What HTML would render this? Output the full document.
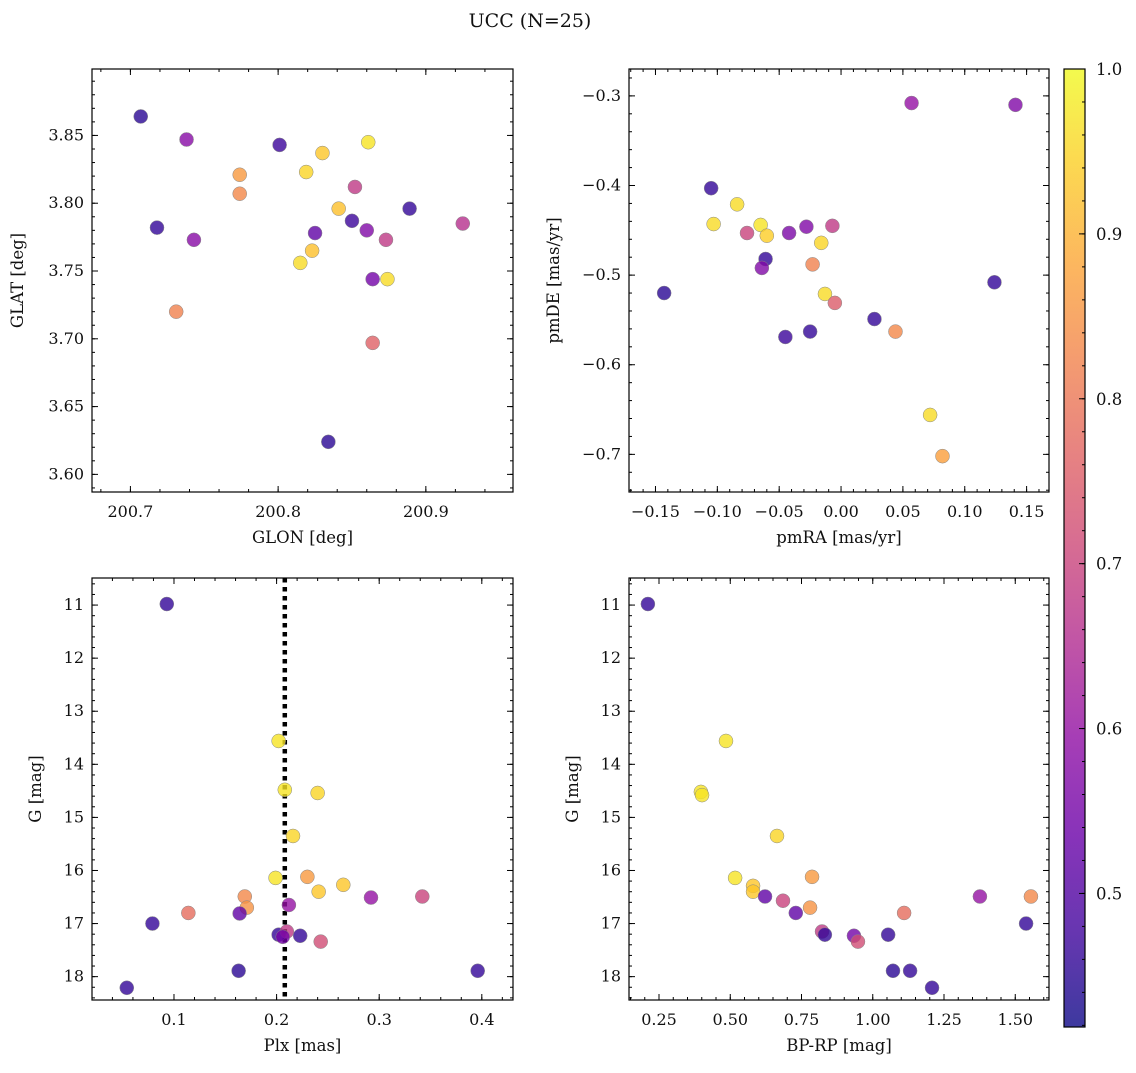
<!DOCTYPE html>
<html><head><meta charset="utf-8"><style>
body{margin:0;background:#fff;}
svg text{font-family:"DejaVu Serif","Liberation Serif",serif;fill:#111;}
</style></head><body>
<svg id="fig" width="1136" height="1068" viewBox="0 0 1136 1068" xmlns="http://www.w3.org/2000/svg">
<defs>
<linearGradient id="plasma" x1="0" y1="1" x2="0" y2="0">
<stop offset="0" stop-color="#0d0887"/><stop offset="0.1" stop-color="#41049d"/><stop offset="0.2" stop-color="#6a00a8"/><stop offset="0.3" stop-color="#8f0da4"/><stop offset="0.4" stop-color="#b12a90"/><stop offset="0.5" stop-color="#cc4778"/><stop offset="0.6" stop-color="#e16462"/><stop offset="0.7" stop-color="#f2844b"/><stop offset="0.8" stop-color="#fca636"/><stop offset="0.9" stop-color="#fcce25"/><stop offset="1" stop-color="#f0f921"/>
</linearGradient>
</defs>
<text x="530" y="27" font-size="19" text-anchor="middle">UCC (N=25)</text>
</svg>
<script>
// Panel 1: GLON vs GLAT
const glon = [200.707,200.738,200.718,200.743,200.774,200.774,200.731,200.801,200.819,200.830,200.861,200.852,200.841,200.850,200.825,200.860,200.873,200.815,200.823,200.864,200.874,200.864,200.889,200.925,200.834];
const glat = [3.864,3.847,3.782,3.773,3.821,3.807,3.720,3.843,3.823,3.837,3.845,3.812,3.796,3.787,3.778,3.780,3.773,3.756,3.765,3.744,3.744,3.697,3.796,3.785,3.624];
const prob1 = [0.45,0.58,0.46,0.58,0.86,0.83,0.82,0.47,0.95,0.93,0.97,0.68,0.92,0.47,0.52,0.57,0.68,0.96,0.92,0.55,0.96,0.76,0.46,0.66,0.45];
// Panel 2: pmRA vs pmDE
const pmra = [-0.143,-0.105,-0.084,-0.103,-0.076,-0.065,-0.060,-0.061,-0.064,-0.042,-0.028,-0.007,-0.016,-0.023,-0.013,-0.005,-0.045,-0.025,0.027,0.044,0.057,0.141,0.124,0.072,0.082];
const pmde = [-0.520,-0.403,-0.421,-0.443,-0.453,-0.444,-0.456,-0.482,-0.492,-0.453,-0.446,-0.445,-0.464,-0.488,-0.521,-0.531,-0.569,-0.563,-0.549,-0.563,-0.308,-0.310,-0.508,-0.656,-0.702];
const prob2 = [0.45,0.46,0.96,0.96,0.70,0.97,0.94,0.46,0.57,0.56,0.57,0.68,0.95,0.82,0.96,0.75,0.47,0.46,0.46,0.83,0.60,0.57,0.46,0.96,0.87];
// Panel 3: Plx vs G
const plx = [0.093,0.202,0.208,0.240,0.216,0.199,0.230,0.265,0.241,0.169,0.171,0.114,0.164,0.212,0.292,0.342,0.079,0.202,0.210,0.223,0.243,0.163,0.396,0.054,0.206];
const gmag3 = [10.98,13.56,14.48,14.54,15.35,16.14,16.12,16.27,16.40,16.49,16.70,16.80,16.81,16.65,16.51,16.49,17.00,17.21,17.15,17.23,17.34,17.89,17.89,18.21,17.25];
const prob3 = [0.46,0.97,0.97,0.95,0.95,0.97,0.86,0.93,0.93,0.83,0.85,0.78,0.52,0.60,0.60,0.70,0.46,0.46,0.68,0.46,0.72,0.45,0.46,0.46,0.55];
const plxLine = 0.208;
// Panel 4: BP-RP vs G
const bprp = [0.211,0.485,0.397,0.401,0.664,0.517,0.580,0.580,0.787,0.780,0.622,0.685,0.730,0.822,0.832,0.934,0.948,1.054,1.110,1.071,1.131,1.208,1.376,1.555,1.538];
const gmag4 = [10.98,13.56,14.52,14.58,15.35,16.14,16.29,16.40,16.12,16.70,16.49,16.57,16.80,17.15,17.21,17.23,17.34,17.21,16.80,17.89,17.89,18.21,16.49,16.49,17.00];
const prob4 = [0.46,0.97,0.97,0.97,0.95,0.97,0.93,0.93,0.86,0.85,0.52,0.70,0.52,0.68,0.46,0.55,0.72,0.46,0.78,0.45,0.46,0.46,0.60,0.83,0.46];
// Colorbar
const cbTicks = [0.5,0.6,0.7,0.8,0.9,1.0];
const cbMin = 0.419, cbMax = 1.0;

const NS = "http://www.w3.org/2000/svg";
const svg = document.getElementById('fig');
function mk(tag, attrs, parent){const e=document.createElementNS(NS,tag);for(const k in attrs)e.setAttribute(k,attrs[k]);(parent||svg).appendChild(e);return e;}

const stops=[[13,8,135],[65,4,157],[106,0,168],[143,13,164],[177,42,144],[204,71,120],[225,100,98],[242,132,75],[252,166,54],[252,206,37],[240,249,33]];
function plasma(v){let t=(v-cbMin)/(cbMax-cbMin);t=Math.max(0,Math.min(1,t))*10;const i=Math.min(9,Math.floor(t)),f=t-i;const a=stops[i],b=stops[i+1];return 'rgb('+a.map((c,j)=>Math.round(c+(b[j]-c)*f)).join(',')+')';}
function fmt(v,d){const s=Math.abs(v).toFixed(d);return (v< -1e-9?'\u2212':'')+s;}

function panel(o){
  const g=mk('g',{});
  
  
  const {L,T,R,B}=o;
  const sx=v=>L+(v-o.x0)/(o.x1-o.x0)*(R-L);
  const sy=o.yInv? v=>T+(v-o.y0)/(o.y1-o.y0)*(B-T) : v=>B-(v-o.y0)/(o.y1-o.y0)*(B-T);
  const tg=mk('g',{stroke:'#000','stroke-width':1},g);
  
  
  const xlo=Math.min(o.x0,o.x1), xhi=Math.max(o.x0,o.x1), ylo=Math.min(o.y0,o.y1), yhi=Math.max(o.y0,o.y1);
  for(let v=Math.ceil(xlo/o.xm-1e-6)*o.xm; v<=xhi+1e-9; v+=o.xm){const x=sx(v);mk('line',{x1:x,x2:x,y1:B,y2:B-3},tg);mk('line',{x1:x,x2:x,y1:T,y2:T+3},tg);}
  for(let v=Math.ceil(ylo/o.ym-1e-6)*o.ym; v<=yhi+1e-9; v+=o.ym){const y=sy(v);mk('line',{x1:L,x2:L+3,y1:y,y2:y},tg);mk('line',{x1:R,x2:R-3,y1:y,y2:y},tg);}
  o.xt.forEach(v=>{const x=sx(v);mk('line',{x1:x,x2:x,y1:B,y2:B-6},tg);mk('line',{x1:x,x2:x,y1:T,y2:T+6},tg);
    const t=mk('text',{x:x,y:B+25,'font-size':16,'text-anchor':'middle'},g);t.textContent=fmt(v,o.xd);
    
    });
  o.yt.forEach(v=>{const y=sy(v);mk('line',{x1:L,x2:L+6,y1:y,y2:y},tg);mk('line',{x1:R,x2:R-6,y1:y,y2:y},tg);
    const t=mk('text',{x:L-8,y:y+5,'font-size':16,'text-anchor':'end'},g);t.textContent=fmt(v,o.yd);
    
    });
  if(o.vline!==undefined){const x=sx(o.vline);const ln=mk('line',{x1:x,x2:x,y1:T,y2:B,stroke:'#000','stroke-width':4.5,'stroke-dasharray':'4.5,4.5'},g);
    
    }
  o.xs.forEach((xv,i)=>{const c=mk('circle',{cx:sx(xv),cy:sy(o.ys[i]),r:7,fill:plasma(o.cs[i]),'fill-opacity':0.8,stroke:'#888','stroke-width':0.5},g);
    
    });
  const fr=mk('rect',{x:L,y:T,width:R-L,height:B-T,fill:'none',stroke:'#000','stroke-width':1.2},g);
  
  
  const xl=mk('text',{x:(L+R)/2,y:B+51,'font-size':16.5,'text-anchor':'middle'},g);xl.textContent=o.xlab;
  
  
  const yl=mk('text',{x:o.ylx,y:(T+B)/2,'font-size':16.5,'text-anchor':'middle',transform:'rotate(-90 '+o.ylx+' '+(T+B)/2+')'},g);yl.textContent=o.ylab;
  
  
}

panel({name:'glon-glat-panel',L:92,T:69,R:513,B:492,x0:200.674,x1:200.959,y0:3.587,y1:3.899,xm:0.02,ym:0.01,
  xt:[200.7,200.8,200.9],yt:[3.6,3.65,3.7,3.75,3.8,3.85],xd:1,yd:2,xs:glon,ys:glat,cs:prob1,xlab:'GLON [deg]',ylab:'GLAT [deg]',ylx:23});
panel({name:'pm-panel',L:629,T:69,R:1049,B:492,x0:-0.1714,x1:0.1681,y0:-0.742,y1:-0.270,xm:0.01,ym:0.02,
  xt:[-0.15,-0.1,-0.05,0,0.05,0.1,0.15],yt:[-0.7,-0.6,-0.5,-0.4,-0.3],xd:2,yd:1,xs:pmra,ys:pmde,cs:prob2,xlab:'pmRA [mas/yr]',ylab:'pmDE [mas/yr]',ylx:559});
panel({name:'plx-g-panel',L:92,T:578,R:513,B:1000,x0:0.0201,x1:0.4304,y0:10.49,y1:18.44,yInv:true,xm:0.02,ym:0.2,
  xt:[0.1,0.2,0.3,0.4],yt:[11,12,13,14,15,16,17,18],xd:1,yd:0,xs:plx,ys:gmag3,cs:prob3,vline:plxLine,xlab:'Plx [mas]',ylab:'G [mag]',ylx:41});
panel({name:'cmd-panel',L:629,T:578,R:1049,B:1000,x0:0.1447,x1:1.6184,y0:10.49,y1:18.44,yInv:true,xm:0.05,ym:0.2,
  xt:[0.25,0.5,0.75,1.0,1.25,1.5],yt:[11,12,13,14,15,16,17,18],xd:2,yd:0,xs:bprp,ys:gmag4,cs:prob4,xlab:'BP-RP [mag]',ylab:'G [mag]',ylx:578});

const cb=mk('g',{});


const cT=69,cB=1027,cL=1064,cR=1085;
mk('rect',{x:cL,y:cT,width:cR-cL,height:cB-cT,fill:'url(#plasma)','fill-opacity':0.8},cb);
mk('rect',{x:cL,y:cT,width:cR-cL,height:cB-cT,fill:'none',stroke:'#000','stroke-width':1.2},cb);
const cy=v=>cB-(v-cbMin)/(cbMax-cbMin)*(cB-cT);
for(let v=0.42;v<=1.0001;v+=0.02){const y=cy(v);mk('line',{x1:cR,x2:cR-3,y1:y,y2:y,stroke:'#000'},cb);}
cbTicks.forEach(v=>{const y=cy(v);mk('line',{x1:cR,x2:cR-6,y1:y,y2:y,stroke:'#000'},cb);
  const t=mk('text',{x:cR+11,y:y+6,'font-size':16.5},cb);t.textContent=v.toFixed(1);
  
  });
</script>
</body></html>
